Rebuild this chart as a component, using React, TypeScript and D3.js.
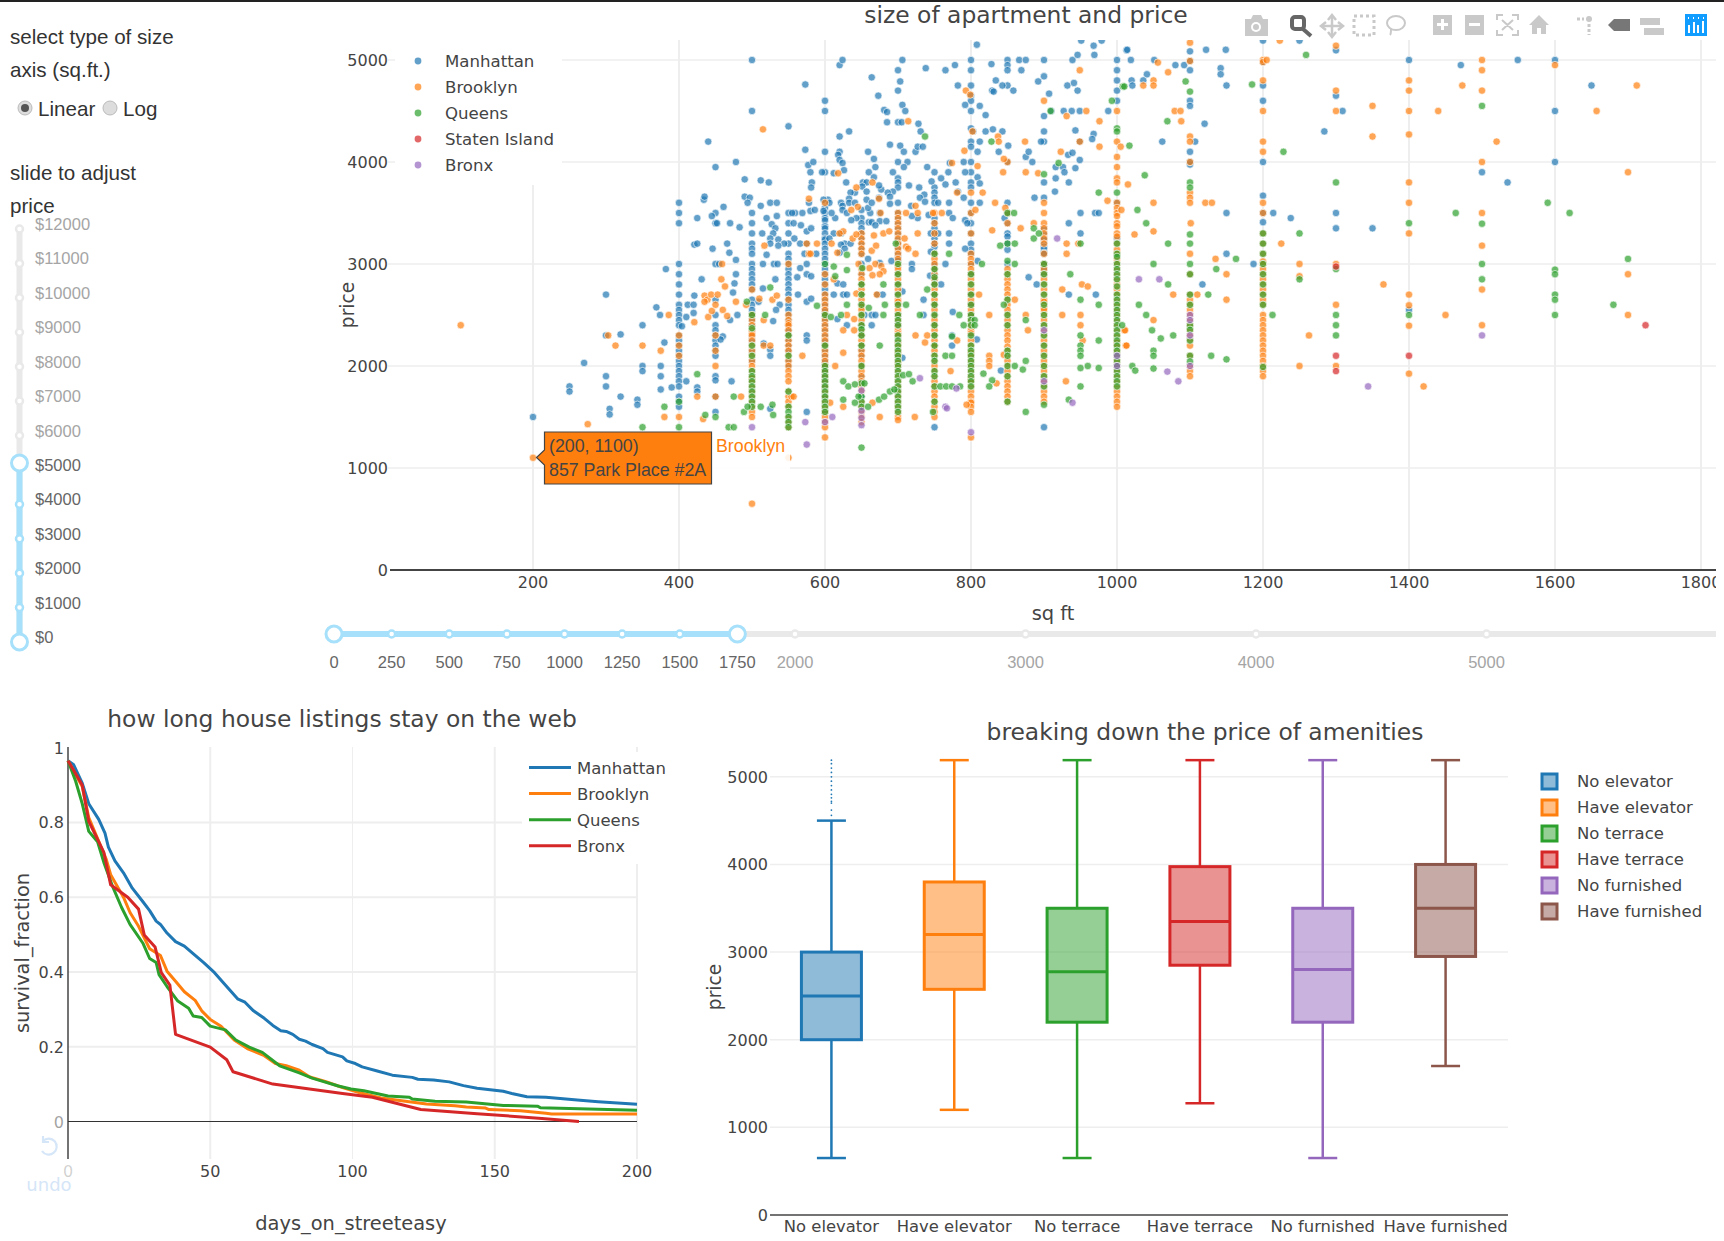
import React from "react";
import * as d3 from "d3";

type Col = [number, number[]];
type Pt = [number, number];

const boroughs = ["Manhattan", "Brooklyn", "Queens", "Staten Island", "Bronx"];
const boroughColors = ["#1f77b4", "#ff7f0e", "#2ca02c", "#d62728", "#9467bd"];

const manhattanCols: Col[] = [
[400,[3600,3500,3400,3000,2900,2800,2700,2600,2550,2500,2450,2400,2300,2250,2200,2150,2100,2050,2000,1950,1900,1850,1800,1700,1650,1600]],
[450,[3950,3500,3400,3000,2650,2500,2400,2350,2300,2250,2200,2150,2100,1900,1860,1700,1550]],
[500,[5000,4500,3500,3400,3300,3200,3150,3100,3000,2950,2900,2850,2800,2750,2650,2600,2550,2500,2450,2400,2350,2300,2250,2150,2050]],
[550,[4350,3500,3400,3300,3200,3100,3050,3000,2950,2900,2850,2800,2750,2700,2650,2600,2550,2500,2450,2400,2350,2300,2250,2200,2150,2050,2000]],
[600,[4600,4500,4100,3900,3600,3550,3500,3450,3430,3370,3350,3300,3250,3240,3200,3150,3100,3050,3000,2950,2900,2850,2800,2750,2700,2650,2600,2550,2500,2450,2400,2350,2300,2250,2200,2150,2100,2050,2000,1950,1900,1850,1800,1700,1550]],
[650,[3530,3450,3400,3350,3300,3250,3200,3150,3100,3000,2900,2800,2700,2600,2500,2400,2300,2200,2160,2100,2000,1900,1850,1700]],
[700,[4900,4700,4390,4000,3840,3800,3750,3600,3500,3450,3400,3350,3300,3240,3200,3160,3100,3060,3030,2900,2800,2700,2500,2400,2300,2100]],
[750,[3900,3750,3700,3650,3600,3450,3400,3350,3300,3250,3200,3170,3100,3000,2950,2900,2850,2800,2700,2600,2500,2400,2300,2200,1400]],
[800,[5000,4900,4750,4650,4600,4500,4330,4200,4150,4000,3900,3800,3750,3600,3500,3400,3300,3200,3140,3100,3000,2900,2700,2600,2500,2300]],
[850,[5000,4950,4900,4750,4000,3600,3500,3400,3300,3270,3200,3140,3000]],
[900,[5000,4450,4300,4200,3800,3650,3350,3300,3250,3240,3200,3170,3150,3110,3100,3000,2950,2900,1400]],
[1000,[5000,4900,4800,4700,4600,3600,3250]],
];
const manhattanPts: Pt[] = [[250,1800],[250,1750],[270,2030],[200,1500],[300,2700],[300,2300],[300,1900],[300,1800],[320,2310],[320,1700],[305,1580],[305,1525],[343,1670],[343,1620],[350,2400],[350,2000],[350,1950],[369,2575],[374,2500],[382,2950],[380,2230],[375,2000],[375,1900],[375,1770],[390,1790],[404,2390],[410,2480],[412,2600],[420,2600],[420,2520],[421,2690],[431,2850],[421,3190],[425,3200],[425,3450],[434,3630],[435,3660],[440,4200],[445,3470],[452,3400],[461,3560],[446,3150],[466,3200],[470,3400],[478,4000],[483,3360],[469,3110],[478,3040],[455,3000],[478,2900],[476,2810],[474,2720],[480,2500],[470,2450],[460,2290],[457,2260],[410,1850],[425,1790],[425,1750],[472,1850],[490,3830],[490,3660],[497,3650],[494,3600],[512,3820],[523,3800],[512,3570],[525,3600],[534,3600],[520,3450],[534,3470],[527,3390],[532,3350],[514,3300],[529,3300],[525,3250],[536,3240],[544,3200],[536,3180],[525,3200],[520,3090],[515,3000],[530,3000],[535,3000],[532,2850],[515,2760],[509,2630],[538,2600],[533,2550],[529,2440],[525,1580],[525,2160],[525,2100],[516,2220],[573,4760],[573,4120],[577,3970],[584,4000],[580,3900],[582,3800],[581,3750],[578,3600],[569,3500],[580,3520],[586,3530],[559,3500],[555,3500],[557,3400],[567,3380],[575,3320],[581,3350],[558,3250],[566,3200],[575,3200],[572,3100],[588,3100],[566,2960],[575,3000],[575,2900],[581,2880],[562,2870],[563,2700],[575,2630],[581,2660],[575,2300],[575,2250],[575,1550],[620,4950],[624,5000],[664,4830],[706,5000],[703,4790],[673,4650],[706,4560],[710,4500],[681,4510],[685,4490],[685,4390],[705,4390],[728,4375],[731,4300],[620,4250],[633,4300],[659,4100],[667,4030],[620,4100],[618,4070],[620,4020],[624,3990],[626,3920],[612,3890],[596,3900],[669,3950],[660,3900],[667,3850],[629,3800],[652,3800],[657,3800],[693,3900],[713,4000],[708,3950],[689,4170],[703,4160],[708,4100],[724,4100],[727,4150],[734,4150],[738,4920],[765,4900],[778,4950],[782,4750],[808,5150],[828,4960],[866,5000],[875,5000],[869,4900],[834,4800],[843,4750],[829,4700],[831,4690],[858,4700],[900,4840],[892,4790],[907,4670],[792,4560],[812,4550],[820,4460],[910,4500],[927,4500],[938,4500],[949,4500],[932,4750],[941,4775],[946,4700],[939,5000],[946,5050],[951,5190],[968,5140],[969,5050],[979,5190],[1013,5095],[988,4500],[943,4310],[968,4275],[966,4225],[949,4200],[896,4200],[803,4300],[812,4200],[820,4300],[830,4320],[843,4300],[809,4100],[838,4100],[851,4160],[875,4050],[879,4100],[884,4000],[933,4070],[939,4090],[949,4020],[916,3950],[926,3950],[928,3900],[943,3940],[916,3840],[934,3800],[915,3710],[887,3650],[950,3500],[970,3500],[975,3500],[934,3400],[950,3300],[846,3450],[879,2870],[890,2800],[934,2700],[971,2700],[841,1955],[740,3950],[759,3840],[769,3900],[771,3990],[790,4000],[792,3900],[809,3850],[812,3790],[779,3800],[765,3780],[746,3810],[729,3750],[715,3770],[736,3680],[730,3650],[737,3610],[693,3710],[686,3700],[689,3660],[689,3590],[718,3570],[755,3600],[770,3600],[790,3650],[782,3710],[812,3600],[770,3500],[775,3450],[792,3430],[795,3400],[745,3300],[755,3300],[770,3300],[742,3480],[727,3450],[719,3470],[770,3200],[792,3150],[809,3030],[745,3120],[765,3000],[744,2885],[759,2800],[735,2650],[735,2500],[775,2530],[808,2260],[774,2300],[774,2200],[719,3000],[719,2950],[691,3030],[706,2730],[706,2080],[660,3410],[664,3410],[675,3420],[684,3420],[675,3500],[662,3500],[643,3450],[659,3550],[669,3380],[651,3760],[657,3710],[641,3700],[635,3700],[633,3640],[622,3600],[633,3600],[641,3600],[657,3630],[664,3600],[674,3650],[677,3730],[674,3770],[624,3570],[624,3530],[630,3500],[636,3430],[614,3450],[609,3500],[598,3520],[604,3630],[598,3630],[606,3600],[622,3300],[627,3200],[622,3190],[627,3150],[635,3200],[612,3300],[606,3250],[620,3110],[612,2700],[625,2700],[630,2700],[672,2700],[679,2700],[617,2810],[625,2800],[617,2460],[630,2400],[664,2400],[654,2500],[664,2500],[669,2500],[659,3050],[675,3010],[1019,5000],[1014,5100],[1051,5000],[1100,5085],[1122,5100],[1149,5100],[1200,5190],[1250,5190],[1300,5095],[1080,4950],[1092,4950],[1100,4900],[1142,4920],[1142,4860],[1041,4860],[1020,4800],[1036,4800],[1021,4750],[1150,4750],[1200,4750],[1100,4600],[1100,4550],[1200,4600],[1300,4650],[1309,4500],[1120,4375],[1284,4300],[1107,4200],[1062,4200],[1100,4100],[1200,4000],[1100,3975],[1200,3670],[1400,5000],[1471,4950],[1549,5000],[1600,5000],[1650,4750],[1600,4500],[1600,4000],[1500,3900],[1535,3800],[1150,3500],[1214,3500],[1238,3450],[1300,3500],[1200,3410],[1300,3350],[1350,3350],[1150,3100],[1187,3000],[1117,2800],[1400,2550],[1100,4990],[1100,4000],[1200,4980],[1200,3500]];

const brooklynCols: Col[] = [
[400,[2300,2200,2100,1500]],
[450,[2300,2150,2000,1700]],
[500,[2500,2450,2400,2350,2320,2300,2250,2200,2150,2100,2050,2000,1950,1900,1880,1850,1800,1750,1700,1650,1600,1550,1500,650,2750]],
[550,[3000,2650,2500,2450,2420,2400,2350,2300,2250,2200,2150,2100,2050,2000,1950,1900,1850,1750,1700,1650,1600,1500,1450,1400,1100]],
[600,[3600,2900,2800,2700,2650,2600,2550,2500,2450,2400,2350,2300,2250,2200,2150,2100,2050,2000,1950,1900,1850,1800,1750,1700,1650,1600,1550,1500,1450,1400,1300]],
[650,[3300,3250,3200,3150,3100,2950,2900,2850,2800,2750,2700,2650,2600,2580,2550,2500,2450,2400,2350,2300,2250,2200,2150,2100,2050,2000,1950,1900,1850,1800,1750,1650,1600,1550,1500,1450]],
[700,[3500,3450,3400,3350,3300,3250,3200,3150,3100,3050,3000,2980,2950,2900,2850,2800,2750,2700,2650,2630,2600,2550,2500,2450,2400,2350,2320,2300,2230,2200,2150,2130,2100,2050,2030,2000,1950,1900,1850,1800,1750,1700,1650,1600,1550,1500,1470]],
[750,[3500,3400,3300,3200,3100,3050,3000,2950,2900,2850,2800,2750,2700,2650,2600,2550,2490,2450,2400,2350,2300,2250,2200,2190,2150,2100,2050,2000,1950,1900,1850,1800,1750,1700,1650,1600,1550,1500]],
[800,[3700,3500,3300,3100,3050,3000,2950,2900,2850,2800,2750,2700,2650,2600,2550,2500,2450,2400,2350,2320,2250,2200,2150,2130,2100,2050,2000,1950,1900,1870,1850,1800,1750,1700,1650,1640,1600,1550,1300]],
[825,[2500,2100,2050,2000]],
[850,[4000,3500,3400,2950,2900,2850,2800,2750,2700,2650,2600,2550,2500,2450,2400,2350,2300,2250,2190,2150,2100,2050,2000,1950,1900,1850,1800,1750,1700,1650]],
[900,[4600,3600,3500,3400,3350,3300,3250,3200,3100,3000,2950,2900,2850,2800,2750,2700,2650,2630,2600,2570,2550,2500,2450,2400,2350,2300,2250,2200,2150,2100,2050,2000,1950,1900,1850,1800,1750,1700,1650]],
[1000,[4500,4200,4050,3950,3840,3800,3600,3550,3500,3470,3400,3370,3300,3270,3200,3140,3100,3050,3000,2950,2900,2850,2800,2750,2700,2650,2600,2550,2500,2450,2400,2350,2300,2250,2230,2200,2150,2100,2050,2000,1950,1900,1850,1800,1750,1700,1650,1600]],
[1100,[5170,4990,4250,4200,4000,3700,3650,3600,3100,2900,2700,2650,2600,2550,2500,2450,2400,2350,2300,2250,2200,2100,2000,1950,1900]],
[1200,[5000,4980,4800,4500,4200,4100,3600,3500,3300,3200,3100,3025,3000,2950,2900,2850,2800,2750,2700,2650,2600,2500,2450,2400,2350,2300,2250,2200,2150,2100,2050,2000,1950,1900]],
[1300,[5140,4700,4500,3000,2600,2000]],
[1400,[4800,4700,4500,4270,3800,3600,3300,2700,2595,2395,1925]],
[1500,[5000,4900,4700,4000,3500,3180,2750,2400]],
];
const brooklynPts: Pt[] = [[101,2400],[200,1100],[275,1430],[303,2300],[313,2200],[350,2200],[386,2500],[375,2150],[380,1500],[433,1480],[421,2430],[440,2480],[435,2690],[439,2650],[435,2630],[444,2700],[453,2700],[445,2540],[450,2600],[460,2550],[466,2490],[463,2780],[458,2850],[459,3000],[478,2630],[492,2600],[510,2660],[515,4320],[516,2450],[517,3180],[528,2650],[534,2690],[516,2200],[525,2200],[569,2100],[578,3640],[575,3200],[589,3200],[578,3100],[580,3100],[485,1700],[425,1700],[554,1700],[557,1700],[614,2000],[609,3200],[618,3890],[617,3110],[612,2850],[630,2500],[640,2460],[625,2350],[640,2350],[625,2130],[625,3320],[620,3300],[638,3250],[643,3290],[645,3560],[636,3530],[643,3750],[665,3800],[674,3640],[676,3500],[646,3000],[667,3280],[680,3300],[688,3320],[664,3130],[670,3180],[669,3000],[677,2980],[661,2960],[680,2930],[675,2900],[665,2890],[643,2710],[671,2700],[607,1640],[625,1600],[665,1640],[675,1500],[723,1500],[709,3250],[714,4400],[711,3170],[714,3150],[724,3100],[727,3300],[724,3570],[727,3500],[711,3500],[748,3500],[760,3500],[724,2300],[737,2230],[740,2300],[772,1950],[781,2250],[781,3700],[793,4700],[799,4660],[791,4110],[774,3990],[802,4300],[809,3960],[806,3530],[816,3700],[811,2700],[794,1620],[833,3600],[829,3330],[837,4250],[838,4200],[844,3900],[845,4030],[847,3550],[835,1830],[860,2650],[845,2110],[874,4200],[875,3900],[868,3350],[886,3400],[892,3890],[878,2350],[875,2500],[923,4100],[931,4450],[949,4900],[958,4500],[949,4200],[976,4400],[976,4150],[987,3620],[1006,3530],[1005,4150],[931,3200],[947,3200],[931,3100],[925,2750],[952,2800],[960,2780],[925,2500],[950,2500],[950,2400],[953,2250],[930,1850],[1010,2350],[1012,2200],[1015,3780],[1056,4975],[1070,4880],[1050,4800],[1036,4750],[1050,4750],[1473,4750],[1600,4950],[1712,4750],[1657,4500],[1440,4500],[1079,4500],[1087,4500],[1088,4400],[1350,4550],[1350,4250],[1520,4200],[1700,3900],[1050,3600],[1121,3600],[1130,3600],[1101,3400],[1050,3320],[1024,3290],[1225,3200],[1135,3050],[1250,3000],[1150,2900],[1250,2880],[1365,2800],[1700,2900],[1077,2700],[1110,2700],[1150,2650],[1050,2450],[1450,2500],[1700,2500],[1011,2350],[1263,2300],[1250,2000],[1420,1800],[1013,2200],[1223,5190],[1205,5000]];

const queensCols: Col[] = [
[500,[2500,2370,2200,2100,1950,1900,1850,1800,1750,1700,1650,1600]],
[550,[2300,2100,1750,1600,1550,1500,1450,1400]],
[600,[3000,2500,2200,2000,1950,1900,1850,1800,1750,1700,1650,1600,1550]],
[650,[2800,2700,2600,2500,2400,2360,2300,2200,2000,1830,1700,1650,1600,1200]],
[700,[3000,2900,2800,2700,2600,2500,2450,2400,2300,2250,2200,2150,2100,2050,2000,1950,1900,1850,1800,1750,1700,1650,1600,1550]],
[750,[3100,2950,2870,2800,2700,2600,2500,2400,2300,2200,2100,2050,1950,1900,1800,1650]],
[800,[2900,2800,2700,2600,2500,2450,2400,2300,2200,2150,2100,2050,2000,1950,1900,1850,1800]],
[850,[3500,3200,3030,2900,2650,2500,2400,2150,2100,2000,1900,1650]],
[900,[3880,3000,2900,2800,2700,2600,2500,2400,2300,2200,2100,2000,1900,1800,1620]],
[950,[3200,2650,2300,2200,2150,2100,1980,1800]],
[1000,[4330,4300,3700,3200,3100,3070,3000,2950,2900,2850,2780,2700,2650,2600,2550,2500,2450,2400,2350,2300,2250,2200,2150,2100,2050,2000,1950,1900,1850,1800]],
[1100,[4690,3800,3750,3290,3200,3000,2900,2700,2600,2400,2355,2250,2100,2045]],
[1200,[3300,3200,3100,3000,2900,2800,2700,2600,1990]],
[1300,[3800,2950,2500,2400,2300]],
[1600,[2945,2900,2700,2650,2500]],
[1500,[4550,3395,3000,2850]],
[1400,[3400,2500]],
];
const queensPts: Pt[] = [[737,4250],[828,4200],[920,3990],[975,3700],[909,4500],[993,4600],[1008,4740],[859,3500],[886,3350],[886,3250],[893,3300],[860,3200],[840,3180],[860,3000],[815,3000],[770,3100],[697,3200],[936,2900],[975,2600],[960,2000],[975,1980],[975,2250],[1007,2400],[845,2600],[860,2000],[871,1965],[875,2050],[875,2450],[817,1925],[829,1860],[825,1800],[790,2400],[805,2450],[805,2400],[784,2500],[774,2290],[765,2100],[774,2100],[758,1800],[766,1800],[774,1800],[785,1800],[740,2750],[730,2500],[425,1920],[380,1600],[400,1650],[350,1400],[400,1400],[450,1500],[436,1520],[475,1700],[468,1400],[475,1400],[489,1550],[494,1600],[512,1600],[528,1620],[529,1520],[625,1850],[632,1800],[641,1820],[654,1830],[625,1670],[641,1640],[646,1700],[659,1600],[674,1670],[681,1700],[689,1750],[695,1770],[707,1910],[715,1920],[720,1850],[748,1550],[875,1550],[934,1670],[612,2975],[614,2880],[630,2940],[630,3090],[680,2800],[651,2960],[711,2600],[682,2600],[589,2590],[622,2500],[608,2480],[525,2770],[518,2500],[493,2630],[675,2200],[630,2600],[660,2570],[680,2500],[1259,5050],[1094,4790],[1185,4760],[1010,4740],[1069,4400],[1017,4160],[1228,4100],[1038,3870],[1028,3530],[1590,3600],[1464,3500],[1620,3500],[1040,3400],[1250,3300],[1070,3200],[1163,3050],[1050,3000],[1700,3050],[1136,2950],[1250,2850],[1070,2800],[1125,2700],[1030,2600],[1680,2600],[1040,2500],[1213,2500],[1048,2350],[1060,2270],[1077,2300],[1050,2150],[1050,2100],[1129,2100],[1150,2065],[1021,2000],[1025,1955],[1050,1975]];

const statenPts: Pt[] = [[1724,2400],[1300,2975],[1300,2100],[1400,2100],[1300,1950]];

const bronxPts: Pt[] = [[730,1880],[780,1780],[765,1600],[767,1585],[650,1760],[650,1560],[650,1490],[650,1420],[610,1500],[600,1450],[573,1450],[575,1230],[500,1400],[800,1350],[939,1640],[918,3250],[1030,2850],[900,2350],[900,1850],[1000,2100],[1000,2000],[1058,2850],[1069,1945],[1084,1850],[1344,1800],[1500,2300],[1100,2500],[1100,2450],[1100,2300],[1100,2000]];

const flat = (cols: Col[], pts: Pt[]): Pt[] => [...cols.flatMap(([s, ps]) => ps.map((p) => [s, p] as Pt)), ...pts];
const scatterSeries: Pt[][] = [flat(manhattanCols, manhattanPts), flat(brooklynCols, brooklynPts), flat(queensCols, queensPts), statenPts, bronxPts];

const sqftTicks = [200, 400, 600, 800, 1000, 1200, 1400, 1600, 1800];
const priceTicks = [0, 1000, 2000, 3000, 4000, 5000];
const priceSliderLabels = [12000, 11000, 10000, 9000, 8000, 7000, 6000, 5000, 4000, 3000, 2000, 1000, 0];
const sizeSliderMarks = [0, 250, 500, 750, 1000, 1250, 1500, 1750, 2000, 3000, 4000, 5000];
const sizeRange = [0, 1750];
const priceRange = [0, 5000];

const survivalNames = ["Manhattan", "Brooklyn", "Queens", "Bronx"];
const survivalColors = ["#1f77b4", "#ff7f0e", "#2ca02c", "#d62728"];
const manhattanSurvival: Pt[] = [[0,.965],[2,.954],[5,.905],[7.3,.85],[10.8,.808],[13,.771],[14.2,.734],[16.5,.697],[19.5,.665],[22.6,.624],[26.4,.587],[28.7,.564],[31,.536],[32.5,.527],[34.8,.504],[37.8,.481],[40.9,.469],[44.7,.444],[47.7,.425],[51.5,.398],[55.3,.365],[59.6,.328],[62.2,.319],[65.2,.296],[69,.276],[72,.257],[74.8,.243],[76.7,.241],[79,.233],[81.3,.22],[83.5,.215],[85.8,.206],[89.6,.195],[91.2,.185],[96.5,.173],[98,.162],[101,.155],[103.4,.146],[108.7,.135],[114,.124],[121,.118],[123,.113],[128.5,.111],[134,.106],[139,.096],[143.8,.089],[153,.081],[156,.075],[161.3,.066],[168,.065],[180,.057],[186.4,.053],[200,.046]];
const brooklynSurvival: Pt[] = [[0,.965],[5,.896],[7.3,.813],[10.4,.757],[13.4,.702],[15,.66],[19.5,.6],[21.8,.559],[24.8,.522],[28.7,.462],[32.5,.444],[34.8,.402],[37.8,.375],[40.9,.347],[44.7,.324],[47,.296],[50,.273],[53.8,.255],[58.4,.218],[63,.195],[69,.176],[72.9,.155],[76.7,.149],[81.3,.137],[85,.119],[90.4,.107],[96.5,.091],[102.6,.077],[110,.063],[118.6,.054],[126,.047],[136,.042],[140,.039],[146.8,.036],[148,.032],[159,.029],[168,.022],[170,.02],[200,.02]];
const queensSurvival: Pt[] = [[0,.965],[2.7,.91],[5,.85],[7.3,.776],[10.4,.748],[12.6,.693],[15.7,.628],[18.8,.573],[21.8,.527],[26.4,.476],[28.7,.436],[31,.425],[32,.393],[34.8,.361],[38.6,.322],[42.4,.303],[44,.282],[47,.278],[50,.255],[55.3,.245],[59,.218],[63.7,.199],[68.3,.185],[74.4,.149],[81.3,.13],[85.8,.116],[95,.095],[99.5,.087],[104,.082],[112.5,.068],[120,.065],[121,.06],[129,.054],[140,.052],[153,.043],[165,.041],[166,.037],[200,.03]];
const bronxSurvival: Pt[] = [[0,.965],[5,.9],[7.3,.803],[12.6,.72],[15,.633],[21,.6],[24.8,.568],[26.8,.499],[30.6,.467],[32.8,.398],[35.8,.365],[37.8,.233],[50,.199],[55.8,.165],[58,.133],[72,.1],[96.5,.075],[107,.065],[124,.032],[143.8,.021],[166.6,.008],[179.6,0]];
const survivalSeries = [manhattanSurvival, brooklynSurvival, queensSurvival, bronxSurvival];
const dayTicks = [0, 50, 100, 150, 200];
const fractionTicks = [0, 0.2, 0.4, 0.6, 0.8, 1];

const amenities = ["No elevator", "Have elevator", "No terrace", "Have terrace", "No furnished", "Have furnished"];
const amenityColors = ["#1f77b4", "#ff7f0e", "#2ca02c", "#d62728", "#9467bd", "#8c564b"];
const boxLow = [650, 1200, 650, 1275, 650, 1700];
const boxQ1 = [2000, 2575, 2200, 2850, 2200, 2950];
const boxMedian = [2500, 3200, 2775, 3350, 2800, 3500];
const boxQ3 = [3000, 3800, 3500, 3975, 3500, 4000];
const boxHigh = [4500, 5190, 5190, 5190, 5190, 5190];
const noElevatorOutliers = [4560, 4620, 4700, 4720, 4760, 4800, 4850, 4900, 4950, 5000, 5050, 5100, 5150, 5190];

const DV = "'DejaVu Sans', Verdana, sans-serif";
const AR = "'Liberation Sans', Arial, sans-serif";
const TXT = "#444";
const GRID = "#eee";
const ACTIVE = "#a6e0fa";
const INACTIVE = "#e9e9e9";

function Modebar() {
  const c = "#c9c9c9";
  return (
    <g>
      <g fill={c}>
        <path d="M1245 19h6l2-4h8l2 4h5v17h-23z" />
        <circle cx="1256" cy="27" r="5" fill="#fff" />
        <circle cx="1256" cy="27" r="3" />
      </g>
      <g fill="none" stroke="#666">
        <rect x="1292" y="17" width="12" height="12" rx="3" strokeWidth="4" />
        <path d="M1303 29l8 7" strokeWidth="4" />
      </g>
      <g fill="none" stroke={c} strokeWidth="2.5">
        <path d="M1332 16v20M1322 26h20" />
        <path d="M1328 20l4-5 4 5M1328 32l4 5 4-5M1326 22l-5 4 5 4M1338 22l5 4-5 4" />
        <rect x="1354" y="16" width="20" height="19" strokeDasharray="3 3" strokeWidth="3" />
        <ellipse cx="1396" cy="23" rx="9" ry="7" strokeWidth="2" />
        <path d="M1391 29q0 5 -1 6" strokeWidth="2" />
      </g>
      <g fill={c}>
        <rect x="1433" y="15" width="19" height="20" />
        <rect x="1465" y="15" width="19" height="20" />
      </g>
      <g fill="#fff">
        <path d="M1441 19h3v4h4v3h-4v4h-3v-4h-4v-3h4z" />
        <rect x="1469" y="23" width="11" height="3" />
      </g>
      <g fill="none" stroke={c} strokeWidth="2">
        <path d="M1497 20v-5h6M1512 15h6v5M1497 30v5h6M1512 35h6v-5M1502 20l11 10M1513 20l-11 10" />
      </g>
      <path d="M1539 15l10 10h-3v9h-5v-6h-4v6h-5v-9h-3z" fill={c} />
      <circle cx="1589" cy="19" r="3" fill={c} />
      <path d="M1577 19h7M1589 24v11" stroke={c} strokeWidth="3" strokeDasharray="3 2" fill="none" />
      <path d="M1608 25l6-6h16v12h-16z" fill="#777" />
      <path d="M1640 18h20v7h-20zM1644 28h20v7h-20z" fill={c} />
      <rect x="1685" y="14" width="22" height="22" fill="#119dff" />
      <path d="M1689 25v8M1694 22v11M1698 25v8M1703 21v12M1688 18h1M1693 18h1M1698 18h1M1703 18h1" stroke="#fff" strokeWidth="2" fill="none" />
    </g>
  );
}

function Controls() {
  const sy = d3.scalePoint<number>().domain(priceSliderLabels).range([229, 642]);
  const hi = 463;
  const lo = sy(priceRange[0])!;
  const sx = d3.scaleLinear().domain([0, 1000]).range([334, 564.5]);
  return (
    <g fontFamily={AR}>
      <g fontSize="20.6" fill="#333">
        <text x="10" y="44">select type of size</text>
        <text x="10" y="77">axis (sq.ft.)</text>
        <text x="38" y="116">Linear</text>
        <text x="123" y="116">Log</text>
        <text x="10" y="180">slide to adjust</text>
        <text x="10" y="213">price</text>
      </g>
      <circle cx="25" cy="108" r="7" fill="#ddd" stroke="#bbb" />
      <circle cx="25" cy="108" r="4" fill="#555" />
      <circle cx="110" cy="108" r="7" fill="#ddd" stroke="#bbb" />
      <line x1="19.5" x2="19.5" y1={sy(12000)} y2={lo} stroke={INACTIVE} strokeWidth="6" />
      <line x1="19.5" x2="19.5" y1={hi} y2={lo} stroke={ACTIVE} strokeWidth="6" />
      {priceSliderLabels.map((v) => {
        const on = v <= priceRange[1] && v >= priceRange[0];
        const big = v === priceRange[0] || v === priceRange[1];
        const cy = v === priceRange[1] ? hi : sy(v)!;
        return (
          <g key={v}>
            <circle cx="19.5" cy={cy} r={big ? 8 : 3.5} fill="#fff" stroke={on ? ACTIVE : INACTIVE} strokeWidth={big ? 3 : 2.5} />
            <text x="35" y={sy(v)! + 1} fontSize="16.5" fill={on ? "#666" : "#a5a5a5"}>{"$" + v}</text>
          </g>
        );
      })}
      <line x1={sx(0)} x2="1716" y1="634" y2="634" stroke={INACTIVE} strokeWidth="6" />
      <line x1={sx(sizeRange[0])} x2={sx(sizeRange[1])} y1="634" y2="634" stroke={ACTIVE} strokeWidth="6" />
      {sizeSliderMarks.map((v) => {
        const on = v <= sizeRange[1];
        const big = v === sizeRange[0] || v === sizeRange[1];
        return (
          <g key={v}>
            <circle cx={sx(v)} cy="634" r={big ? 8 : 3.5} fill="#fff" stroke={on ? ACTIVE : INACTIVE} strokeWidth={big ? 3 : 2.5} />
            <text x={sx(v)} y="668" textAnchor="middle" fontSize="16.5" fill={on ? "#666" : "#a5a5a5"}>{v}</text>
          </g>
        );
      })}
    </g>
  );
}

function Scatter() {
  const x = d3.scaleLinear().domain([0, 1800]).range([387, 1701]);
  const y = d3.scaleLinear().domain([0, 5000]).range([570, 60]);
  return (
    <g fontFamily={DV} fill={TXT}>
      <defs>
        <clipPath id="sc"><rect x="387" y="40" width="1329" height="532" /></clipPath>
        <clipPath id="sl"><rect x="387" y="572" width="1329" height="30" /></clipPath>
      </defs>
      {sqftTicks.map((t) => <line key={t} x1={x(t)} x2={x(t)} y1="40" y2="570" stroke={GRID} strokeWidth="2" />)}
      {priceTicks.slice(1).map((t) => <line key={t} x1="388" x2="1716" y1={y(t)} y2={y(t)} stroke={GRID} strokeWidth="1.5" />)}
      <rect x="395" y="38" width="167" height="147" fill="#fff" />
      <g clipPath="url(#sc)">
        {scatterSeries.map((s, i) => (
          <g key={i} fill={boroughColors[i]} fillOpacity=".7" stroke="#fff" strokeOpacity=".8" strokeWidth="0.8">
            {s.map((p, j) => <circle key={j} cx={x(p[0])} cy={y(p[1])} r="3.7" />)}
          </g>
        ))}
      </g>
      <line x1="390" x2="1716" y1={y(0)} y2={y(0)} stroke="#444" strokeWidth="2" />
      <g fontSize="16" textAnchor="middle" clipPath="url(#sl)">
        {sqftTicks.map((t) => <text key={t} x={x(t)} y="588">{t}</text>)}
      </g>
      <g fontSize="16" textAnchor="end">
        {priceTicks.map((t) => <text key={t} x="388" y={y(t) + 6}>{t}</text>)}
      </g>
      {boroughs.map((b, i) => (
        <g key={b}>
          <circle cx="418" cy={61 + i * 26} r="3.4" fill={boroughColors[i]} fillOpacity=".7" />
          <text x="445" y={67 + i * 26} fontSize="16.6">{b}</text>
        </g>
      ))}
      <text x="1026" y="23" fontSize="23.4" textAnchor="middle">size of apartment and price</text>
      <text x="1053" y="620" fontSize="19.4" textAnchor="middle">sq ft</text>
      <text transform="translate(354,305) rotate(-90)" fontSize="18.6" textAnchor="middle">price</text>
      <rect x="712" y="432" width="78" height="52" fill="#fff" fillOpacity=".88" />
      <path d="M544.5 432h167v52h-167v-19l-8 -7.5 8 -7.5z" fill="#ff7f0e" stroke="#444" strokeWidth="1.2" />
      <g fontFamily={AR} fontSize="17.8">
        <text x="549" y="452">(200, 1100)</text>
        <text x="549" y="476">857 Park Place #2A</text>
        <text x="716" y="452" fill="#ff7f0e">Brooklyn</text>
      </g>
    </g>
  );
}

function Survival() {
  const x = d3.scaleLinear().domain([0, 200]).range([68, 637]);
  const y = d3.scaleLinear().domain([0, 1]).range([1121.5, 747.6]);
  const line = d3.line<Pt>().x((d) => x(d[0])).y((d) => y(d[1]));
  return (
    <g fontFamily={DV} fill={TXT}>
      {dayTicks.slice(1).map((t) => <line key={t} x1={x(t)} x2={x(t)} y1="747" y2="1159" stroke={GRID} strokeWidth={t === 100 ? 1 : 2} />)}
      {fractionTicks.slice(1, 5).map((t) => <line key={t} x1="68" x2="637" y1={y(t)} y2={y(t)} stroke={GRID} strokeWidth="2" />)}
      <rect x="522" y="752" width="150" height="112" fill="#fff" />
      <line x1="68" x2="68" y1="747" y2="1159" stroke="#444" strokeWidth="1.5" />
      <line x1="68" x2="637" y1={y(0)} y2={y(0)} stroke="#333" strokeWidth="1.2" />
      {survivalSeries.map((s, i) => <path key={i} d={line(s)!} fill="none" stroke={survivalColors[i]} strokeWidth="3" strokeLinejoin="round" />)}
      <g fontSize="16" textAnchor="end">
        {fractionTicks.map((t) => <text key={t} x="64" y={y(t) + 6} fillOpacity={t === 0 ? 0.5 : 1}>{t}</text>)}
      </g>
      <g fontSize="16" textAnchor="middle">
        {dayTicks.map((t) => <text key={t} x={x(t)} y="1177" fillOpacity={t === 0 ? 0.25 : 1}>{t}</text>)}
      </g>
      {survivalNames.map((n, i) => (
        <g key={n}>
          <line x1="529" x2="571" y1={767.5 + i * 26.1} y2={767.5 + i * 26.1} stroke={survivalColors[i]} strokeWidth="3" />
          <text x="577" y={773.5 + i * 26.1} fontSize="16.5">{n}</text>
        </g>
      ))}
      <text x="342" y="727" fontSize="23.4" textAnchor="middle">how long house listings stay on the web</text>
      <text x="351" y="1230" fontSize="19.4" textAnchor="middle">days_on_streeteasy</text>
      <text transform="translate(29,953) rotate(-90)" fontSize="19.4" textAnchor="middle">survival_fraction</text>
      <path d="M43 1141a8 8 0 1 1 -1 10M43 1136v6h6" fill="none" stroke="#d5e6f8" strokeWidth="2.2" />
      <text x="49" y="1191" fontSize="18" textAnchor="middle" fill="#d5e6f8">undo</text>
    </g>
  );
}

function Boxes() {
  const x = d3.scaleBand<string>().domain(amenities).range([770, 1507]);
  const y = d3.scaleLinear().domain([0, 5000]).range([1215, 776.8]);
  const bw = 60;
  const cap = 29;
  return (
    <g fontFamily={DV} fill={TXT}>
      {priceTicks.slice(1).map((t) => <line key={t} x1="770" x2="1508" y1={y(t)} y2={y(t)} stroke={GRID} strokeWidth="1.5" />)}
      <line x1="770" x2="1508" y1={y(0)} y2={y(0)} stroke="#444" strokeWidth="1.5" />
      {amenities.map((a, i) => {
        const cx = x(a)! + x.bandwidth() / 2;
        const col = amenityColors[i];
        return (
          <g key={a} stroke={col} fill="none">
            <line x1={cx} x2={cx} y1={y(boxLow[i])} y2={y(boxQ1[i])} strokeWidth="2.5" />
            <line x1={cx} x2={cx} y1={y(boxQ3[i])} y2={y(boxHigh[i])} strokeWidth="2.5" />
            <line x1={cx - cap / 2} x2={cx + cap / 2} y1={y(boxLow[i])} y2={y(boxLow[i])} strokeWidth="2.5" />
            <line x1={cx - cap / 2} x2={cx + cap / 2} y1={y(boxHigh[i])} y2={y(boxHigh[i])} strokeWidth="2.5" />
            <rect x={cx - bw / 2} y={y(boxQ3[i])} width={bw} height={y(boxQ1[i]) - y(boxQ3[i])} fill={col} fillOpacity=".5" strokeWidth="3" />
            <line x1={cx - bw / 2} x2={cx + bw / 2} y1={y(boxMedian[i])} y2={y(boxMedian[i])} strokeWidth="3" />
          </g>
        );
      })}
      {noElevatorOutliers.map((v) => <circle key={v} cx={x(amenities[0])! + x.bandwidth() / 2} cy={y(v)} r="0.9" fill="#1f77b4" />)}
      <g fontSize="16" textAnchor="end">
        {priceTicks.map((t) => <text key={t} x="768" y={y(t) + 6}>{t}</text>)}
      </g>
      <g fontSize="16.4" textAnchor="middle">
        {amenities.map((a) => <text key={a} x={x(a)! + x.bandwidth() / 2} y="1232">{a}</text>)}
      </g>
      {amenities.map((a, i) => (
        <g key={a}>
          <rect x="1542" y={774 + i * 26} width="15" height="15" fill={amenityColors[i]} fillOpacity=".5" stroke={amenityColors[i]} strokeWidth="3" />
          <text x="1577" y={787 + i * 26} fontSize="16.5">{a}</text>
        </g>
      ))}
      <text x="1205" y="740" fontSize="23.4" textAnchor="middle">breaking down the price of amenities</text>
      <text transform="translate(721,987) rotate(-90)" fontSize="18.6" textAnchor="middle">price</text>
    </g>
  );
}

export default function App() {
  return (
    <svg width="1724" height="1241" viewBox="0 0 1724 1241" style={{ position: "absolute", left: 0, top: 0, background: "#fff" }}>
      <rect x="0" y="0" width="1724" height="2" fill="#222" />
      <Controls />
      <Scatter />
      <Modebar />
      <Survival />
      <Boxes />
    </svg>
  );
}
